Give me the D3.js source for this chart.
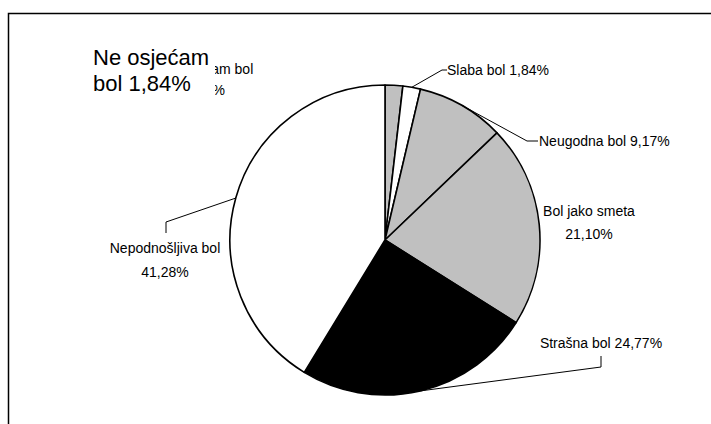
<!DOCTYPE html>
<html>
<head>
<meta charset="utf-8">
<script src="https://cdn.jsdelivr.net/npm/d3@7"></script>
<style>
  body { margin: 0; background: #fff; }
  svg { display: block; font-family: "Liberation Sans", Arial, sans-serif; }
</style>
</head>
<body>
<div id="chart"></div>
<script>
// data
var categories = ["Ne osjećam bol", "Slaba bol", "Neugodna bol", "Bol jako smeta", "Strašna bol", "Nepodnošljiva bol"];
var values = [1.84, 1.84, 9.17, 21.10, 24.77, 41.28];
var valueLabels = ["1,84%", "1,84%", "9,17%", "21,10%", "24,77%", "41,28%"];

// slice fills
var fills = ["#c0c0c0", "#ffffff", "#c0c0c0", "#c0c0c0", "#000000", "#ffffff"];

var w = 711, h = 424;
var cx = 385, cy = 240, r = 155;

var svg = d3.select("#chart").append("svg")
  .attr("width", w)
  .attr("height", h);

// chart frame (runs off the right and bottom of the picture)
svg.append("rect")
  .attr("x", 8.5).attr("y", 13.5)
  .attr("width", 900).attr("height", 900)
  .attr("fill", "none")
  .attr("stroke", "#000")
  .attr("stroke-width", 1.5);

var pie = d3.pie().sort(null).value(function(d) { return d; });
var arcs = pie(values);
var arc = d3.arc().innerRadius(0).outerRadius(r);

var g = svg.append("g").attr("transform", "translate(" + cx + "," + cy + ")");

g.selectAll("path")
  .data(arcs)
  .enter().append("path")
  .attr("d", arc)
  .attr("fill", function(d, i) { return fills[i]; })
  .attr("stroke", "#000")
  .attr("stroke-width", 1.6)
  .attr("stroke-linejoin", "round");

// point on pie edge at middle angle of a slice
function edge(d) {
  var a = (d.startAngle + d.endAngle) / 2;
  return [cx + r * Math.sin(a), cy - r * Math.cos(a)];
}

// label layout (Excel placed them by hand): anchor x, first baseline, leader path
var labelLayout = [
  { x: 205, y: 74, lines: 2, gap: 21, leader: null },
  { x: 447, y: 75, lines: 1, anchor: "start", leader: [[442, 70], [447, 70]] },
  { x: 539, y: 146, lines: 1, anchor: "start", leader: [[527, 141], [538, 141]] },
  { x: 589, y: 216, lines: 2, gap: 23, leader: null },
  { x: 601, y: 348, lines: 1, leader: [[601, 367], [601, 356]] },
  { x: 165, y: 253, lines: 2, gap: 24, leader: [[166, 222], [166, 233]] }
];

// leader lines
arcs.forEach(function(d, i) {
  var L = labelLayout[i];
  if (!L.leader) return;
  var pts = [edge(d)].concat(L.leader);
  svg.append("path")
    .attr("d", d3.line()(pts))
    .attr("fill", "none")
    .attr("stroke", "#000")
    .attr("stroke-width", 1);
});

// data labels
arcs.forEach(function(d, i) {
  var L = labelLayout[i];
  var t = svg.append("text")
    .attr("font-size", 14)
    .attr("fill", "#000")
    .attr("text-anchor", L.anchor || "middle");
  if (L.lines == 2) {
    t.append("tspan").attr("x", L.x).attr("y", L.y).text(categories[i]);
    t.append("tspan").attr("x", L.x).attr("y", L.y + L.gap).text(valueLabels[i]);
  } else {
    t.attr("x", L.x).attr("y", L.y).text(categories[i] + " " + valueLabels[i]);
  }
});

// enlarged label of the first slice drawn over its small copy
var words = categories[0].split(" ");
var big = svg.append("g");
big.append("rect")
  .attr("x", 86).attr("y", 44)
  .attr("width", 129).attr("height", 56)
  .attr("fill", "#fff");
var bt = big.append("text")
  .attr("font-size", 22)
  .attr("fill", "#000");
bt.append("tspan").attr("x", 93).attr("y", 65).text(words.slice(0, 2).join(" "));
bt.append("tspan").attr("x", 93).attr("y", 91).text(words.slice(2).join(" ") + " " + valueLabels[0]);
</script>
</body>
</html>
